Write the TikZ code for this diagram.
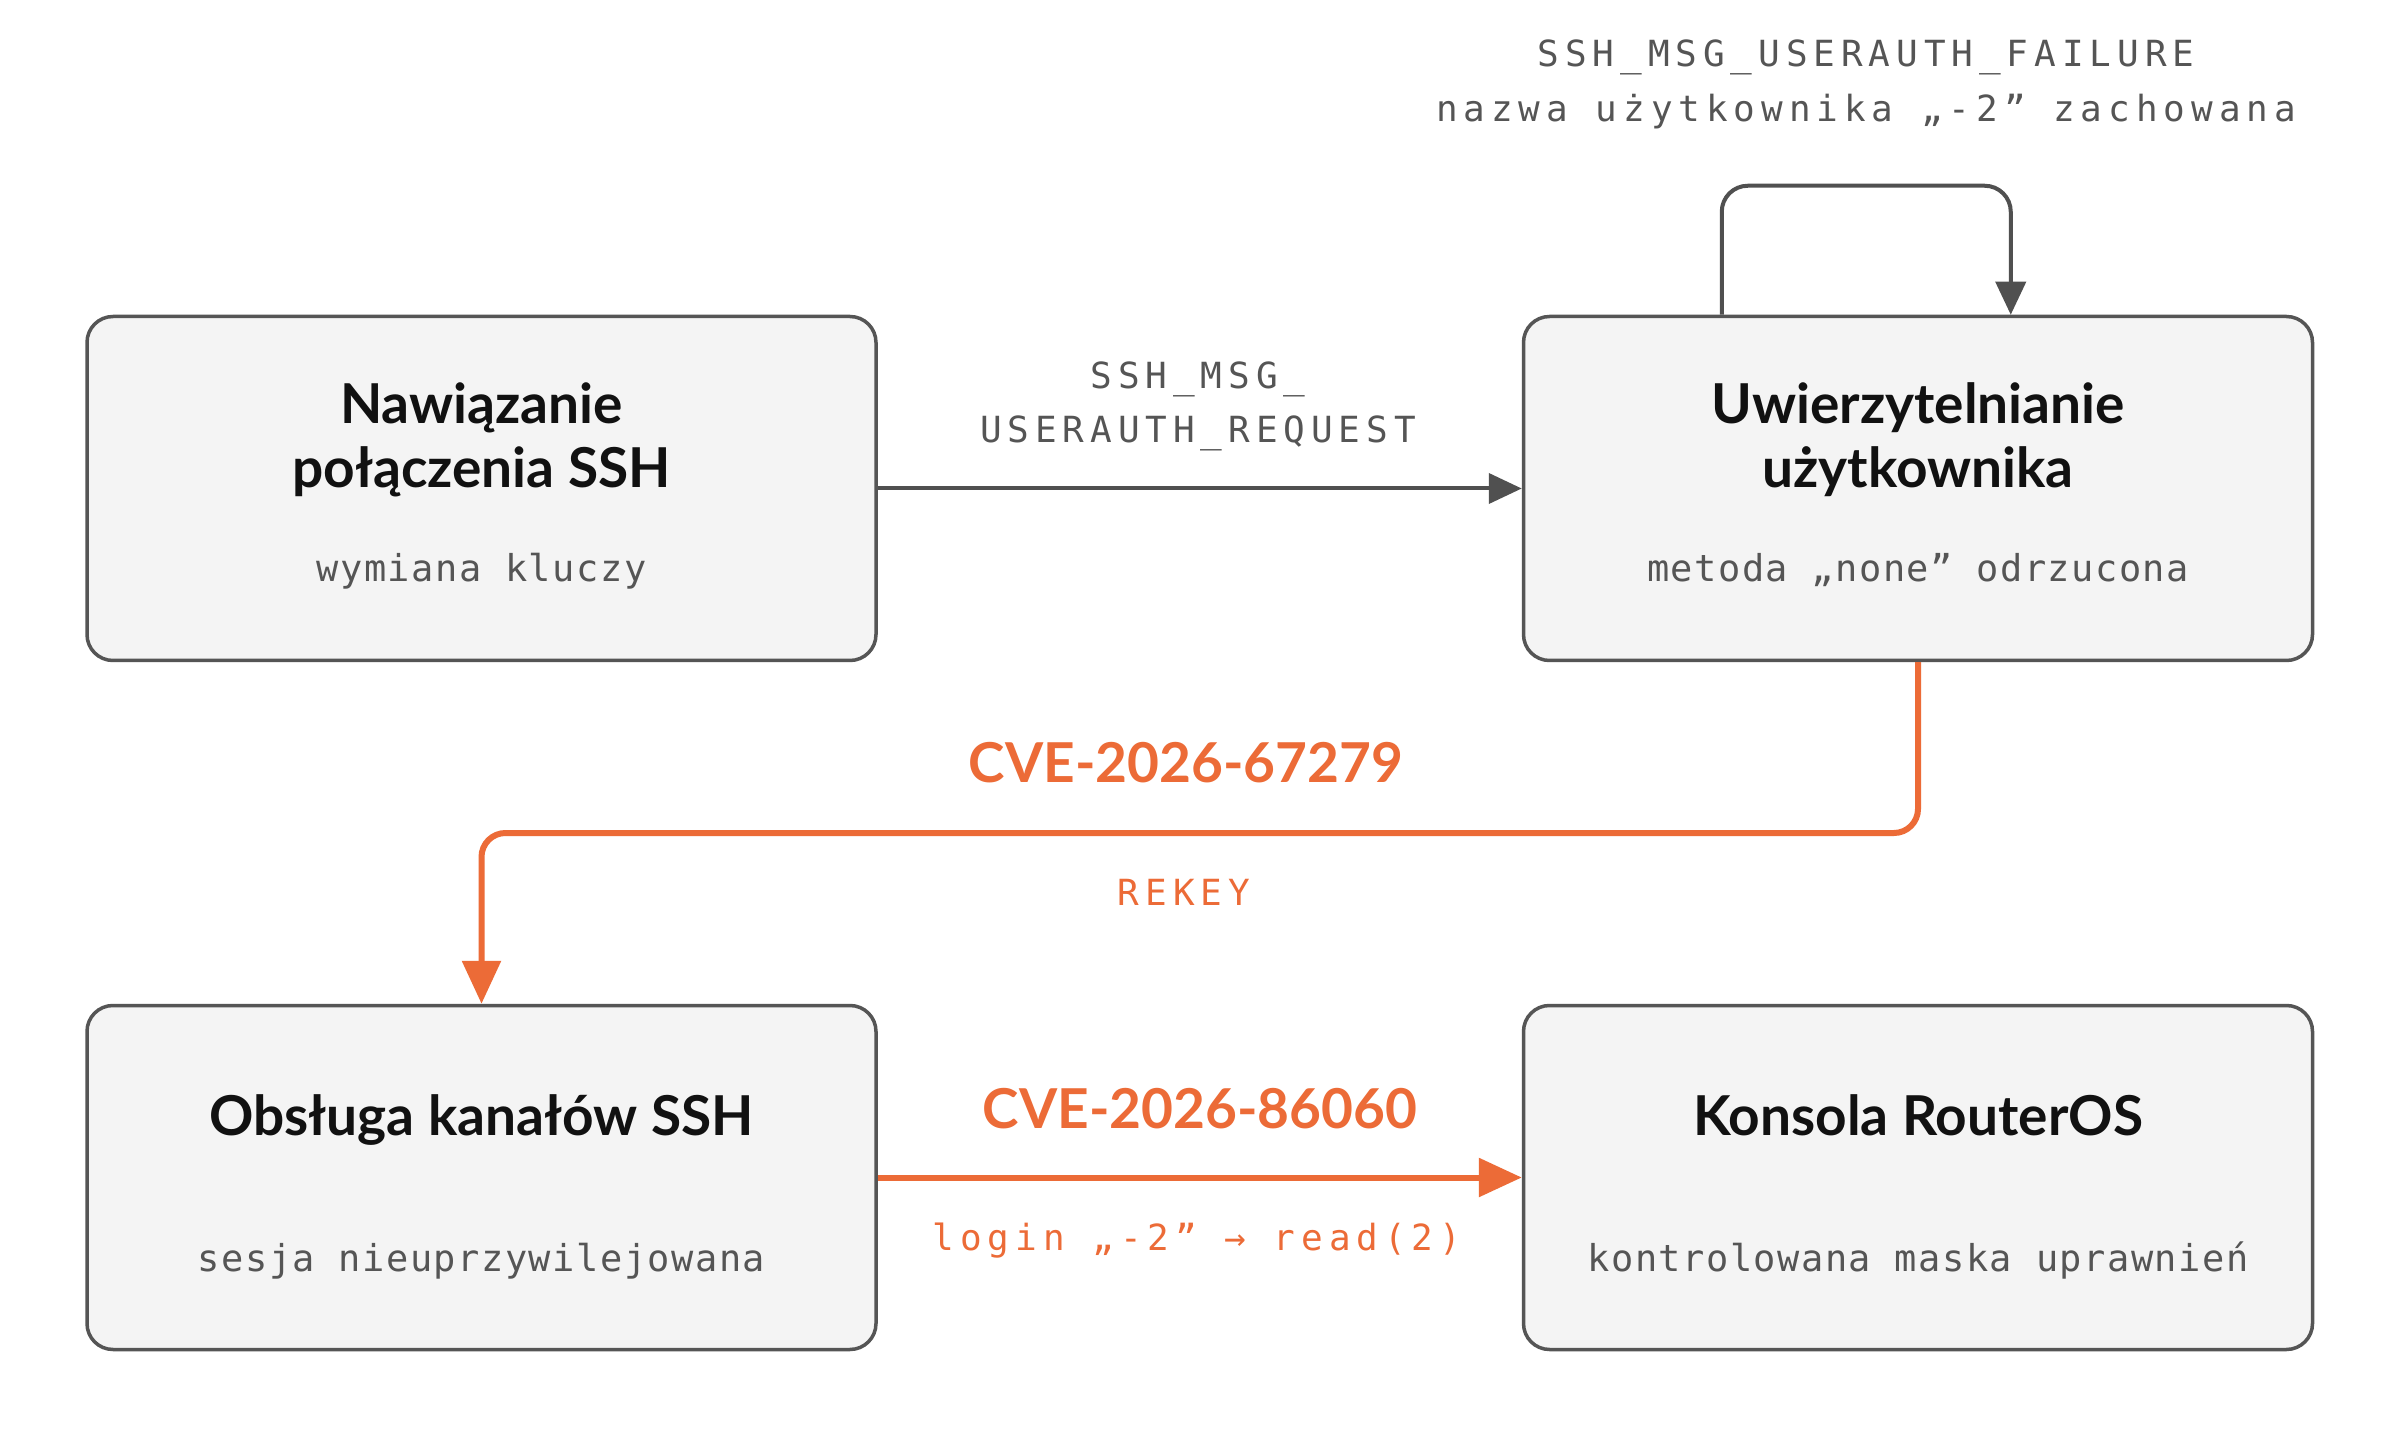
\documentclass[tikz,border=0pt]{standalone}
\usepackage{fontspec}
\setmainfont{Lato}
\newfontfamily\subfont[LetterSpace=4]{DejaVu Sans Mono}
\newfontfamily\edgefont[LetterSpace=16.5]{DejaVu Sans Mono}
\usetikzlibrary{arrows.meta,calc}
\definecolor{boxfill}{HTML}{F4F4F4}
\definecolor{boxline}{HTML}{555555}
\definecolor{linegray}{HTML}{505050}
\definecolor{txtgray}{HTML}{555555}
\definecolor{accent}{HTML}{EC6B37}
\definecolor{titleblack}{HTML}{111111}
\tikzset{
  box/.style={draw=boxline, line width=1.75pt, fill=boxfill, rounded corners=13pt,
    minimum width=394.5pt, minimum height=172pt, inner sep=0pt},
  titletext/.style={font=\fontsize{27.5}{33}\selectfont\bfseries, text=titleblack, anchor=base, inner sep=0pt},
  subtext/.style={font=\subfont\fontsize{18.5}{22}\selectfont, text=txtgray, anchor=base, inner sep=0pt},
  edgetext/.style={font=\edgefont\fontsize{18}{22}\selectfont, text=txtgray, anchor=base, inner sep=0pt},
  orangetext/.style={edgetext, text=accent},
  cvetext/.style={font=\fontsize{27.5}{33}\selectfont\bfseries, text=accent, anchor=base, inner sep=0pt},
  grayarrow/.style={draw=linegray, line width=2pt, -{Triangle[length=16.5pt,width=15pt]}},
  orangearrow/.style={draw=accent, line width=3pt, -{Triangle[length=21.5pt,width=19pt]}}
}
\begin{document}
\begin{tikzpicture}[x=0.5pt,y=-0.5pt]
\useasboundingbox (0,0) rectangle (2400,1438);
\fill[white] (0,0) rectangle (2400,1438);

% boxes
\node[box] (b1) at (481.5,488.5) {};
\node[box] (b2) at (1918,488.5) {};
\node[box] (b3) at (481.5,1177.5) {};
\node[box] (b4) at (1918,1177.5) {};

% box texts
\node[titletext] (b1t1) at (481.5,424) {Nawiązanie};
\node[titletext] (b1t2) at (481.5,488) {połączenia SSH};
\node[subtext] (b1s) at (481.5,582) {wymiana kluczy};

\node[titletext] (b2t1) at (1918,424) {Uwierzytelnianie};
\node[titletext] (b2t2) at (1918,488) {użytkownika};
\node[subtext] (b2s) at (1918,582) {metoda „none” odrzucona};

\node[titletext] (b3t1) at (481.5,1135) {Obsługa kanałów SSH};
\node[subtext] (b3s) at (481.5,1271) {sesja nieuprzywilejowana};

\node[titletext] (b4t1) at (1918,1135) {Konsola RouterOS};
\node[subtext] (b4s) at (1918,1271) {kontrolowana maska uprawnień};

% edge labels
\node[edgetext] (l1a) at (1198,389) {SSH\_MSG\_};
\node[edgetext] (l1b) at (1198,443) {USERAUTH\_REQUEST};
\node[edgetext] (l2a) at (1866,66.5) {SSH\_MSG\_USERAUTH\_FAILURE};
\node[edgetext] (l2b) at (1866,121.5) {nazwa użytkownika „-2” zachowana};
\node[cvetext] (l3a) at (1186,783) {CVE-2026-67279};
\node[orangetext] (l3b) at (1184,905) {REKEY};
\node[cvetext] (l4a) at (1200,1128) {CVE-2026-86060};
\node[orangetext] (l4b) at (1197,1250) {login „-2” → read(2)};

% connectors
\draw[grayarrow] (b1.east) -- (b2.west);
\coordinate (loopA) at ($(b2.north west)+(200,0)$);
\coordinate (loopB) at ($(b2.north west)+(489,0)$);
\draw[grayarrow, rounded corners=13pt] (loopA) -- ++(0,-129) -| (loopB);

\coordinate (o1) at (1918,833);
\coordinate (o2) at (481.5,833);
\draw[orangearrow, rounded corners=12pt] (b2.south) -- (o1) -- (o2) -- (b3.north);
\draw[orangearrow] (b3.east) -- (b4.west);
\end{tikzpicture}
\end{document}
